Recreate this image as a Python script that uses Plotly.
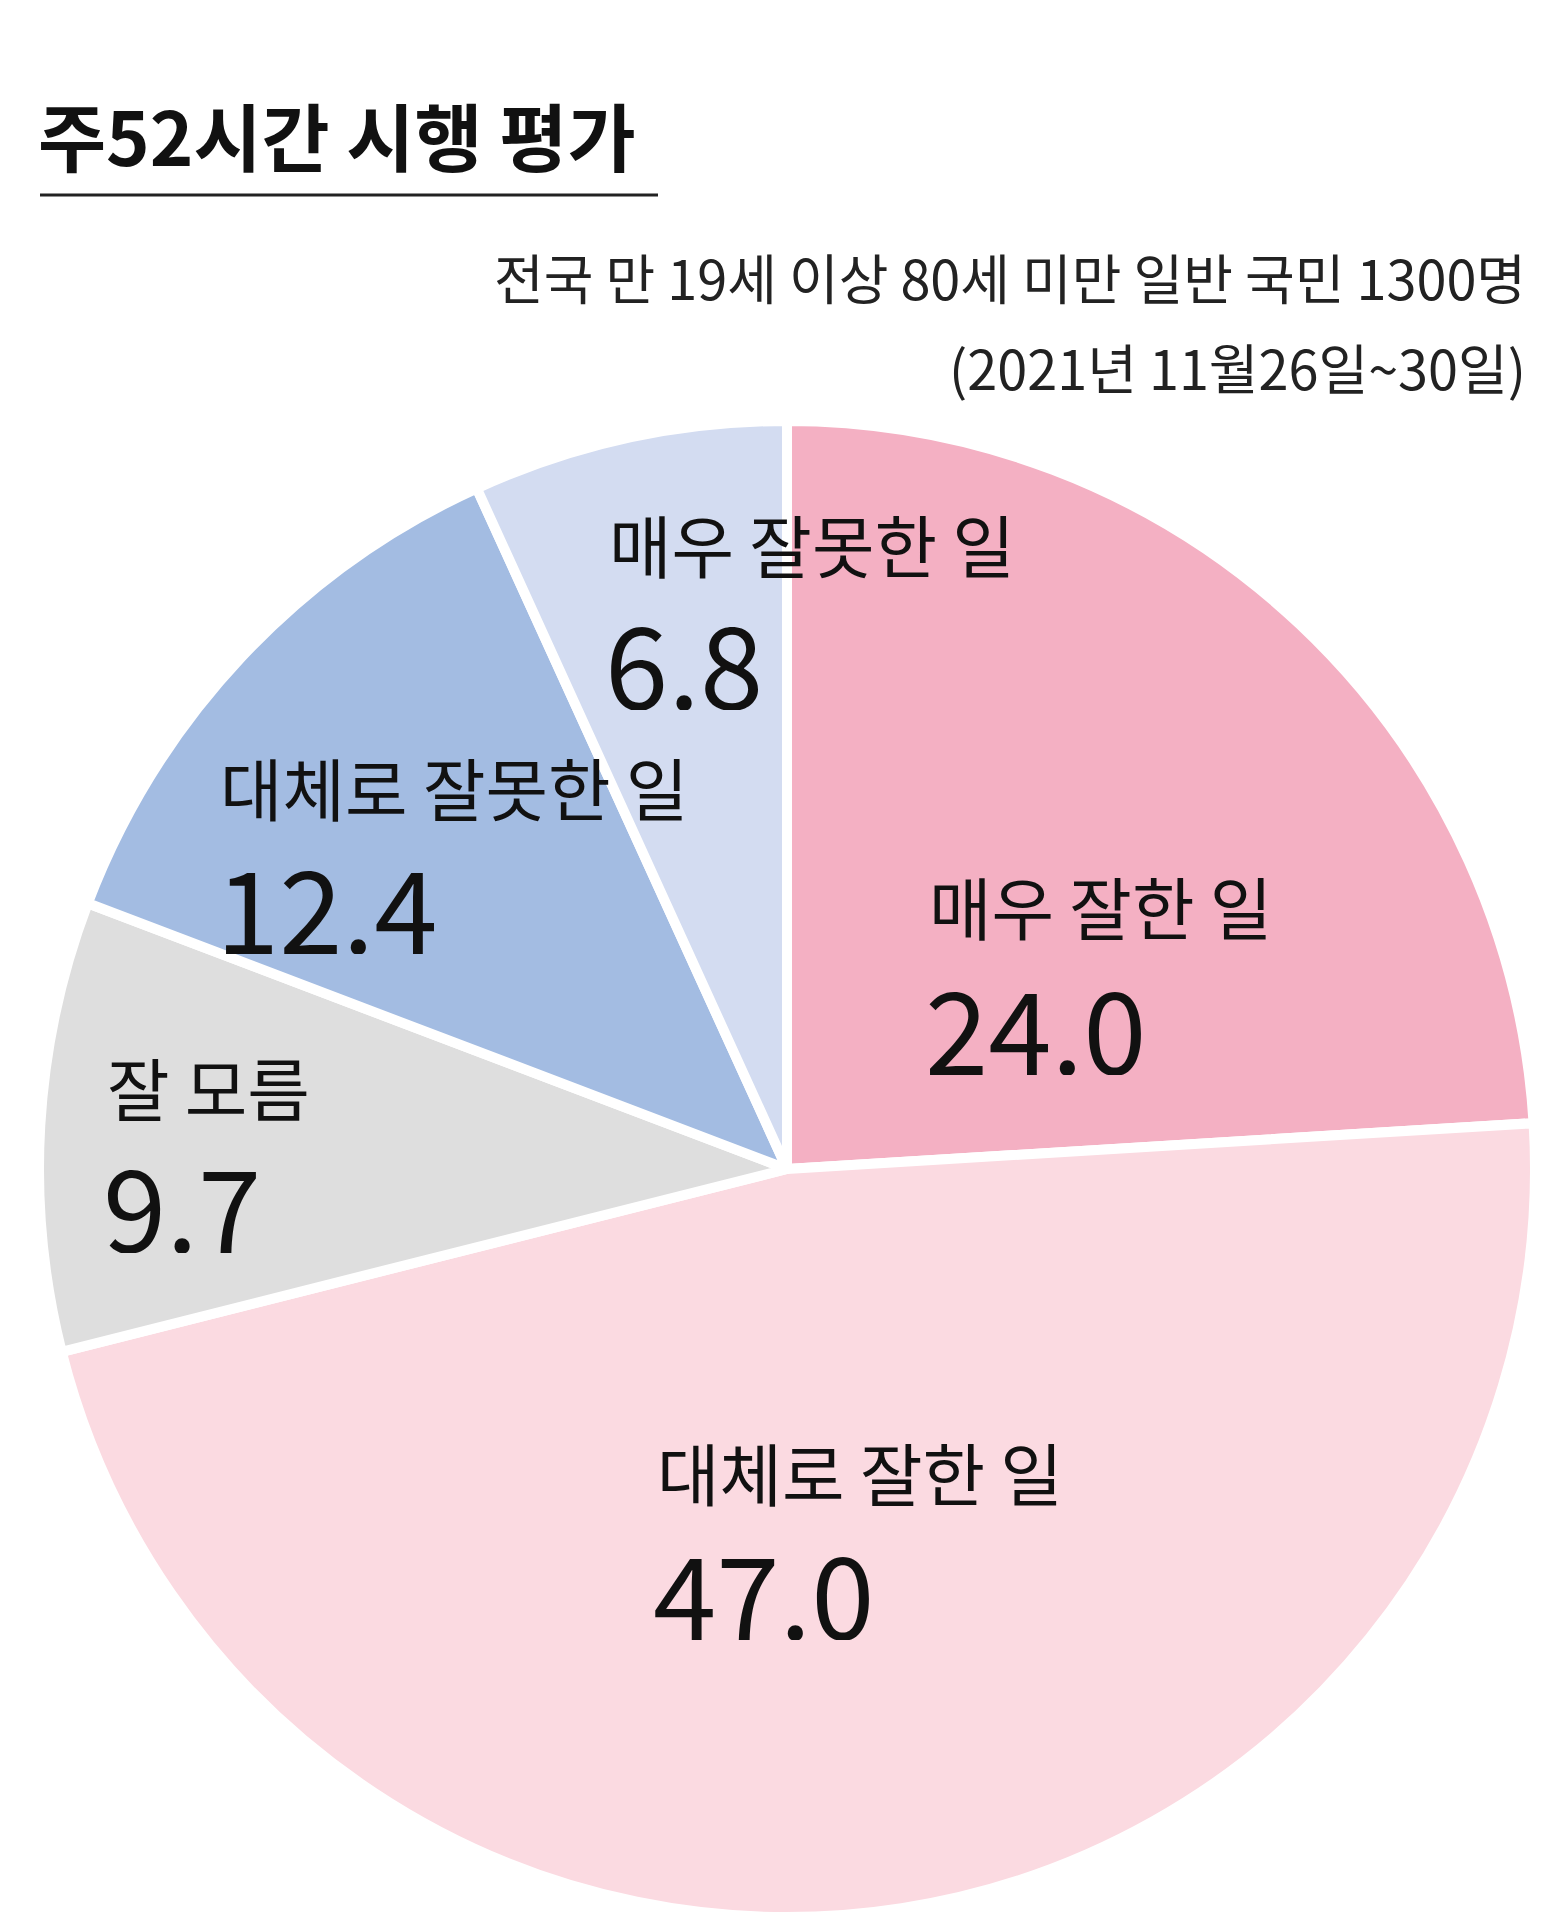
import plotly.graph_objects as go

# survey result (percent), clockwise from 12 o'clock
labels = ["매우 잘한 일", "대체로 잘한 일", "잘 모름", "대체로 잘못한 일", "매우 잘못한 일"]
values = [24.0, 47.0, 9.7, 12.4, 6.8]
colors = ["#F4B0C3", "#FBDAE1", "#DEDEDE", "#A3BCE2", "#D3DCF1"]

title = "주52시간 시행 평가"
subtitle = ["전국 만 19세 이상 80세 미만 일반 국민 1300명", "(2021년 11월26일~30일)"]

W, H = 1565, 1925
FONT = "Noto Sans CJK KR"

# label anchor points in pixels (left edge, centre of name line, centre of value line)
label_pos = [
    (927, 905, 1025),
    (655, 1471, 1590),
    (105, 1086, 1203),
    (218, 786, 904),
    (607, 543, 660),
]

cx, cy, r = 787, 1169, 748

fig = go.Figure()
fig.add_trace(
    go.Pie(
        labels=labels,
        values=values,
        sort=False,
        direction="clockwise",
        rotation=0,
        marker=dict(colors=colors, line=dict(color="white", width=10)),
        textinfo="none",
        hoverinfo="label+value",
        showlegend=False,
        domain=dict(x=[(cx - r) / W, (cx + r) / W], y=[1 - (cy + r) / H, 1 - (cy - r) / H]),
    )
)


def px(x, y):
    return x / W, 1 - y / H


# slice labels
for lab, val, (lx, ny, vy) in zip(labels, values, label_pos):
    x, y = px(lx, ny)
    fig.add_annotation(x=x, y=y, text=lab, showarrow=False, xanchor="left", yanchor="middle",
                       height=78, font=dict(family=FONT, size=68, color="#111111"))
    x, y = px(lx - 4, vy)
    fig.add_annotation(x=x, y=y, text=f"{val:.1f}", showarrow=False, xanchor="left", yanchor="middle",
                       height=100, font=dict(family=FONT, size=114, color="#111111"))

# title and underline
x, y = px(36, 134)
fig.add_annotation(x=x, y=y, text=f"<b>{title}</b>", showarrow=False, xanchor="left", yanchor="middle",
                   font=dict(family=FONT, size=74, color="#111111"))
fig.add_shape(type="line", xref="paper", yref="paper",
              x0=40 / W, x1=658 / W, y0=1 - 195 / H, y1=1 - 195 / H,
              line=dict(color="#222222", width=3))

# subtitle lines
for line, yy in zip(subtitle, [276, 367]):
    x, y = px(1528, yy)
    fig.add_annotation(x=x, y=y, text=line, showarrow=False, xanchor="right", yanchor="middle",
                       font=dict(family=FONT, size=54, color="#222222"))

fig.update_layout(
    width=W,
    height=H,
    margin=dict(l=0, r=0, t=0, b=0),
    paper_bgcolor="white",
    plot_bgcolor="white",
    font=dict(family=FONT),
)

fig.write_html("out.html", config={"displayModeBar": False},
               post_script="document.body.style.margin='0';")
